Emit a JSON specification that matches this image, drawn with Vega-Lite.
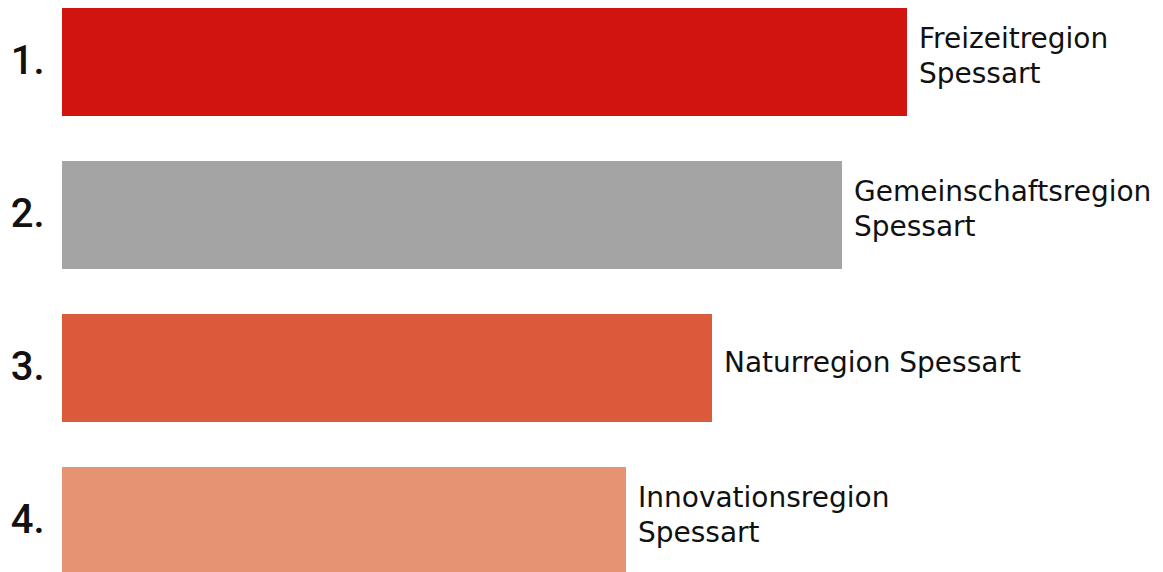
{
  "$schema": "https://vega.github.io/schema/vega-lite/v6.json",
  "width": 1101,
  "height": 567,
  "padding": {"left": 62, "top": 8, "right": 0, "bottom": 0},
  "autosize": {"type": "none"},
  "background": "white",
  "config": {"view": {"stroke": null}},
  "data": {
    "values": [
      {"rank": "1.", "line1": "Freizeitregion", "line2": "Spessart", "lines": 2, "value": 845},
      {"rank": "2.", "line1": "Gemeinschaftsregion", "line2": "Spessart", "lines": 2, "value": 780},
      {"rank": "3.", "line1": "Naturregion Spessart", "line2": "", "lines": 1, "value": 650},
      {"rank": "4.", "line1": "Innovationsregion", "line2": "Spessart", "lines": 2, "value": 564}
    ]
  },
  "encoding": {
    "y": {
      "field": "rank",
      "type": "ordinal",
      "sort": null,
      "scale": {"paddingInner": 0.294, "paddingOuter": 0},
      "axis": {
        "title": null,
        "domain": false,
        "ticks": false,
        "labelPadding": 18,
        "labelFont": "Roboto",
        "labelFontWeight": 500,
        "labelFontSize": 40,
        "labelColor": "#111111",
        "labelBaseline": "middle",
        "labelAlign": "right"
      }
    },
    "x": {
      "field": "value",
      "type": "quantitative",
      "scale": {"domain": [0, 1101], "nice": false, "zero": true},
      "axis": null
    }
  },
  "layer": [
    {
      "mark": {"type": "bar"},
      "encoding": {
        "color": {
          "field": "rank",
          "type": "nominal",
          "scale": {"domain": ["1.", "2.", "3.", "4."], "range": ["#D21411", "#A5A4A4", "#DC5A3C", "#E69373"]},
          "legend": null
        }
      }
    },
    {
      "transform": [{"filter": "datum.lines == 2"}],
      "mark": {
        "type": "text",
        "align": "left",
        "baseline": "middle",
        "dx": 12,
        "dy": -22,
        "font": "DejaVu Sans",
        "fontSize": 28,
        "color": "#111111"
      },
      "encoding": {"text": {"field": "line1"}}
    },
    {
      "transform": [{"filter": "datum.lines == 2"}],
      "mark": {
        "type": "text",
        "align": "left",
        "baseline": "middle",
        "dx": 12,
        "dy": 13,
        "font": "DejaVu Sans",
        "fontSize": 28,
        "color": "#111111"
      },
      "encoding": {"text": {"field": "line2"}}
    },
    {
      "transform": [{"filter": "datum.lines == 1"}],
      "mark": {
        "type": "text",
        "align": "left",
        "baseline": "middle",
        "dx": 12,
        "dy": -4,
        "font": "DejaVu Sans",
        "fontSize": 28,
        "color": "#111111"
      },
      "encoding": {"text": {"field": "line1"}}
    }
  ]
}
